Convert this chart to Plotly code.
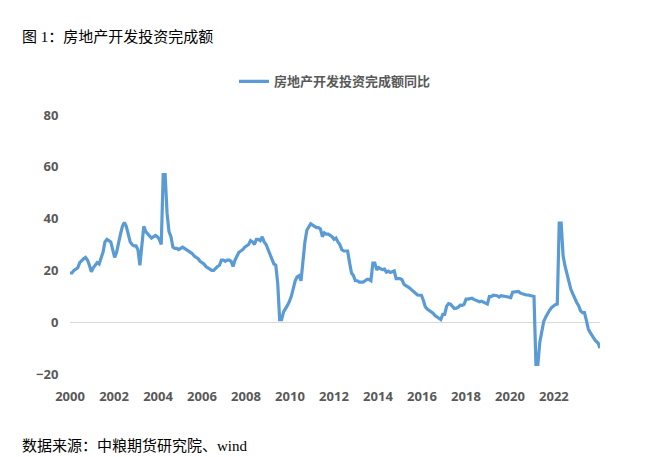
import plotly.graph_objects as go

years = list(range(2000, 2023))
values_by_year = {
    2000: [19, 19, 20, 20.5, 21, 23, 24, 24.5, 25, 24, 22, 19.5],
    2001: [21, 22, 23, 22.5, 25, 27, 31, 32, 31.5, 31, 28, 25],
    2002: [27, 31, 34, 37, 38.5, 37, 34, 31, 30, 29.5, 29.5, 28],
    2003: [22, 30, 37, 35, 34, 33, 32.5, 33, 33.5, 33, 32, 30],
    2004: [57, 57, 42, 35, 33, 29, 28.5, 28.5, 28, 28.5, 29, 28.5],
    2005: [28, 27.5, 27, 26.5, 25.5, 25, 24.5, 23.5, 23, 22.5, 21.5, 21],
    2006: [20.5, 20, 20, 21, 21.5, 22, 24, 24, 23.5, 24, 24, 23.5],
    2007: [21.5, 24, 25.5, 27, 27.5, 28, 29, 29.5, 30, 31.5, 31, 30],
    2008: [32, 32, 31.5, 33, 31, 30, 28, 26, 24, 22.5, 22, 15],
    2009: [1, 1, 4, 5, 6.5, 8, 10, 13, 16, 17.5, 18, 16],
    2010: [25, 31, 35.5, 37, 38, 37.5, 37, 36.5, 36.5, 36, 33, 34.5],
    2011: [34, 34, 33.5, 33, 32, 32.5, 31, 30, 28, 27.5, 27.5, 27.5],
    2012: [23, 19, 18, 16, 16, 15.5, 15.5, 15.5, 16, 16.5, 16.5, 16],
    2013: [22.8, 22.8, 20.2, 21.1, 20.6, 20.3, 20.5, 19.3, 19.7, 19.2, 19.5, 19.8],
    2014: [16.8, 16.8, 16.8, 16.4, 14.7, 14.1, 13.7, 13.2, 12.5, 11.9, 11.2, 10.5],
    2015: [10.4, 10.4, 8.5, 6.0, 5.1, 4.6, 4.3, 3.5, 2.6, 2.0, 1.3, 1.0],
    2016: [3.0, 3.0, 6.2, 7.2, 7.0, 6.1, 5.3, 5.4, 5.8, 6.6, 6.5, 6.9],
    2017: [8.9, 8.9, 9.1, 9.3, 8.8, 8.5, 7.9, 7.9, 8.1, 7.8, 7.5, 7.0],
    2018: [9.9, 9.9, 10.4, 10.3, 10.2, 9.7, 10.2, 10.1, 9.9, 9.7, 9.7, 9.5],
    2019: [11.6, 11.6, 11.8, 11.9, 11.2, 10.9, 10.6, 10.5, 10.5, 10.3, 10.2, 9.9],
    2020: [-16.3, -16.3, -7.7, -3.3, 0.3, 1.9, 3.4, 4.6, 5.6, 6.3, 6.8, 7.0],
    2021: [38.3, 38.3, 25.6, 21.6, 18.3, 15.0, 12.7, 10.9, 8.9, 7.6, 6.4, 4.4],
    2022: [3.7, 3.7, 0.7, -2.7, -4.0, -5.4, -6.4, -7.4, -8.0, -10.0],
}
tick_labels = ["2000", "2002", "2004", "2006", "2008", "2010",
               "2012", "2014", "2016", "2018", "2020", "2022"]
series_name = "房地产开发投资完成额同比"

x, y = [], []
for yr in years:
    for m, v in enumerate(values_by_year[yr]):
        x.append(yr + m / 12)
        y.append(v)

# The source chart's tick labels are spaced slightly tighter than the data
label_scale = 22.0 / 23.3
tickvals = [2000 + (int(t) - 2000) * label_scale for t in tick_labels]

tickfont = dict(family="Open Sans", size=13, color="#595959", weight="bold")
serif = "Liberation Serif, Noto Sans CJK SC"

fig = go.Figure(go.Scatter(x=x, y=y, mode="lines", name=series_name,
                           line=dict(color="#5B9BD5", width=3.2)))
fig.update_layout(
    width=649, height=457, plot_bgcolor="white", paper_bgcolor="white",
    margin=dict(l=62, r=57, t=107, b=91, autoexpand=False),
    showlegend=True,
    legend=dict(orientation="h", x=0.5, xanchor="center", y=1.13, yanchor="middle",
                font=dict(family="Noto Sans CJK SC", size=13, color="#595959", weight="bold")),
    font=dict(family="Noto Sans CJK SC"),
)
fig.update_xaxes(range=[2000, 2022.75], tickvals=tickvals, ticktext=tick_labels,
                 showgrid=False, zeroline=False, showline=False,
                 ticks="outside", ticklen=10, tickcolor="rgba(0,0,0,0)",
                 automargin=False, tickfont=tickfont)
fig.update_yaxes(range=[-20, 80], tickvals=[-20, 0, 20, 40, 60, 80],
                 showgrid=False, zeroline=True, zerolinecolor="#D9D9D9", zerolinewidth=1,
                 showline=False, ticks="outside", ticklen=8, tickcolor="rgba(0,0,0,0)",
                 automargin=False, tickfont=tickfont)
fig.add_annotation(text="图 1：房地产开发投资完成额", xref="paper", yref="paper",
                   x=-0.095, y=1.302, xanchor="left", yanchor="middle", showarrow=False,
                   font=dict(family=serif, size=15, color="black"))
fig.add_annotation(text="数据来源：中粮期货研究院、wind", xref="paper", yref="paper",
                   x=-0.095, y=-0.275, xanchor="left", yanchor="middle", showarrow=False,
                   font=dict(family=serif, size=15, color="black"))
fig.write_html("out.html")
